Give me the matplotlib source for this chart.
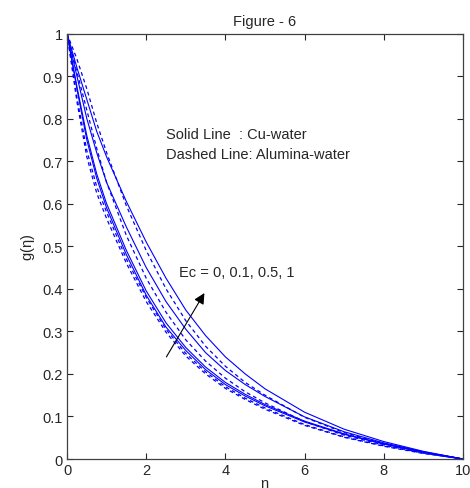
import numpy as np
import matplotlib
matplotlib.use('Agg')
import matplotlib.pyplot as plt

plt.rcParams['font.family'] = ['Liberation Sans', 'DejaVu Sans']
plt.rcParams['mathtext.default'] = 'regular'

# similarity variable
eta = [0, 0.25, 0.5, 0.75, 1, 1.5, 2, 2.5, 3, 3.5, 4, 4.5, 5, 6, 7, 8, 9, 10]

ec_values = [0, 0.1, 0.5, 1]

# g(eta) for Cu-water (solid lines), one list per Ec
cu_g = [
    [1, 0.87, 0.75, 0.66, 0.59, 0.48, 0.385, 0.31, 0.255, 0.21, 0.175, 0.148, 0.125, 0.087, 0.058, 0.035, 0.016, 0],
    [1, 0.875, 0.76, 0.67, 0.60, 0.49, 0.395, 0.32, 0.262, 0.216, 0.18, 0.152, 0.128, 0.089, 0.059, 0.036, 0.016, 0],
    [1, 0.9, 0.8, 0.72, 0.65, 0.545, 0.45, 0.37, 0.305, 0.25, 0.208, 0.175, 0.147, 0.099, 0.064, 0.038, 0.017, 0],
    [1, 0.92, 0.845, 0.77, 0.71, 0.605, 0.51, 0.425, 0.35, 0.29, 0.24, 0.2, 0.165, 0.11, 0.07, 0.041, 0.018, 0],
]

# g(eta) for Alumina-water (dashed lines)
al_g = [
    [1, 0.84, 0.71, 0.625, 0.565, 0.46, 0.37, 0.298, 0.242, 0.2, 0.166, 0.14, 0.117, 0.079, 0.051, 0.03, 0.013, 0],
    [1, 0.85, 0.725, 0.64, 0.58, 0.47, 0.38, 0.305, 0.248, 0.205, 0.17, 0.143, 0.12, 0.081, 0.052, 0.031, 0.014, 0],
    [1, 0.91, 0.82, 0.73, 0.65, 0.525, 0.425, 0.345, 0.28, 0.23, 0.19, 0.158, 0.132, 0.088, 0.056, 0.033, 0.014, 0],
    [1, 0.94, 0.87, 0.79, 0.72, 0.595, 0.49, 0.4, 0.325, 0.265, 0.218, 0.18, 0.15, 0.098, 0.062, 0.036, 0.016, 0],
]

fig = plt.figure(figsize=(4.7, 4.89), dpi=100)
ax = fig.add_axes([0.1426, 0.0593, 0.8424, 0.8701])

for g in cu_g:
    ax.plot(eta, g, color='#0000ff', lw=0.8, ls='-')
for g in al_g:
    ax.plot(eta, g, color='#0000ff', lw=0.9, ls=(0, (3, 2.5)))

ax.set_xlim(0, 10)
ax.set_ylim(0, 1)
ax.set_xticks(np.arange(0, 11, 2))
ax.set_yticks(np.round(np.arange(0, 1.01, 0.1), 1))
ax.set_yticklabels(['0', '0.1', '0.2', '0.3', '0.4', '0.5', '0.6', '0.7', '0.8', '0.9', '1'])
ax.tick_params(direction='in', top=True, right=True, length=4, width=0.8,
               labelsize=10.5, colors='#262626', pad=3)
for s in ax.spines.values():
    s.set_color('#404040')
    s.set_linewidth(0.9)

ax.set_title('Figure - 6', fontsize=10.5, color='#262626', pad=6)
ax.set_xlabel(r'$\eta$', fontsize=10.5, color='#262626', labelpad=0)
ax.set_ylabel(r'g($\eta$)', fontsize=10.5, color='#262626', labelpad=4)

ax.text(2.51, 0.763, 'Solid Line  : Cu-water', fontsize=10.5, color='#262626', va='center')
ax.text(2.51, 0.716, 'Dashed Line: Alumina-water', fontsize=10.5, color='#262626', va='center')
ax.text(2.84, 0.44, 'Ec = ' + ', '.join(str(e) for e in ec_values), fontsize=10.5,
        color='#262626', va='center')

ax.annotate('', xy=(3.47, 0.39), xytext=(2.51, 0.24),
            arrowprops=dict(arrowstyle='-|>', color='black', lw=0.8,
                            mutation_scale=16, shrinkA=0, shrinkB=0))

fig.savefig('out.png', dpi=100)
